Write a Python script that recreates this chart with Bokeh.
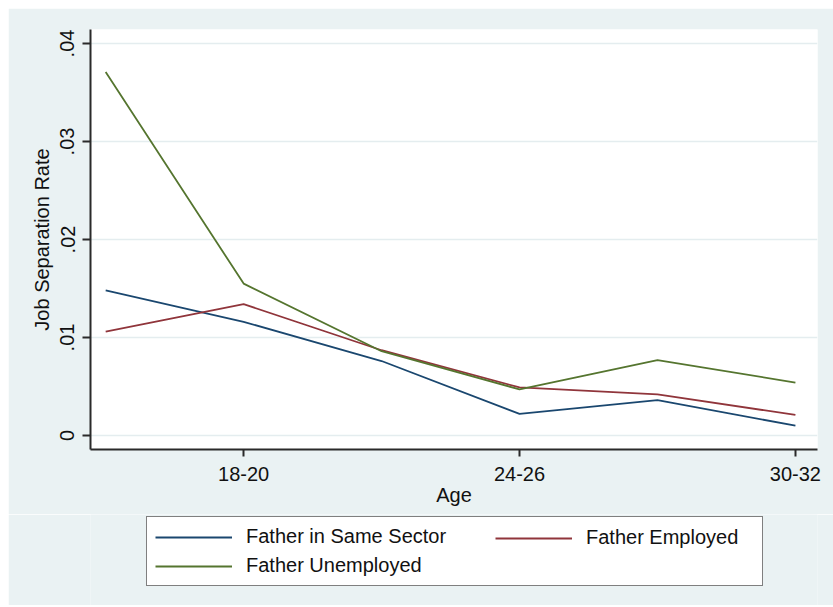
from bokeh.plotting import figure
from bokeh.models import (FixedTicker, CustomJSTickFormatter, Legend, LegendItem,
                          Spacer, Range1d)
from bokeh.layouts import column, row
from bokeh.embed import file_html
from bokeh.resources import INLINE

# ---- data ----
age_groups = ["15-17", "18-20", "21-23", "24-26", "27-29", "30-32"]
x_pos = [1, 2, 3, 4, 5, 6]
same_sector = [0.0148, 0.0116, 0.0076, 0.0022, 0.0036, 0.0010]
employed = [0.0106, 0.0134, 0.0087, 0.0049, 0.0042, 0.0021]
unemployed = [0.0371, 0.0155, 0.0086, 0.0047, 0.0077, 0.0054]
y_ticks = [0, 0.01, 0.02, 0.03, 0.04]
x_label_idx = [2, 4, 6]
series_names = ["Father in Same Sector", "Father Employed", "Father Unemployed"]

BG = "#EAF2F3"
GRID = "#E4EDEF"
AXIS = "#2a2a2a"
FONT = "Liberation Sans"
FS = "20px"
LW = 1.8
colors = ["#1a476f", "#90353b", "#55752f"]

# ---------------- main chart ----------------
p = figure(width=825, height=506,
           x_range=Range1d(0.89, 6.16), y_range=Range1d(-0.00143, 0.04143),
           output_backend="svg", toolbar_location=None,
           background_fill_color="white", border_fill_color=BG,
           outline_line_color=None,
           min_border_left=82, min_border_right=16,
           min_border_top=21, min_border_bottom=65)

for ys, c in zip([same_sector, employed, unemployed], colors):
    p.line(x_pos, ys, line_color=c, line_width=LW)

p.xgrid.grid_line_color = None
p.ygrid.ticker = FixedTicker(ticks=y_ticks)
p.ygrid.grid_line_color = GRID
p.ygrid.grid_line_width = 1.5

for ax in (p.xaxis[0], p.yaxis[0]):
    ax.axis_line_color = AXIS
    ax.axis_line_width = 2
    ax.major_tick_line_color = AXIS
    ax.major_tick_line_width = 2
    ax.major_tick_in = 0
    ax.minor_tick_line_color = None
    ax.major_label_text_font = FONT
    ax.major_label_text_font_size = FS
    ax.major_label_text_color = "#111111"
    ax.axis_label_text_font = FONT
    ax.axis_label_text_font_size = FS
    ax.axis_label_text_font_style = "normal"
    ax.axis_label_text_color = "#111111"

p.xaxis.ticker = FixedTicker(ticks=x_label_idx)
p.xaxis.major_label_overrides = {i: age_groups[i - 1] for i in x_label_idx}
p.xaxis.major_tick_out = 7
p.xaxis.major_label_standoff = 10
p.xaxis.axis_label = "Age"
p.xaxis.axis_label_standoff = 0

p.yaxis.ticker = FixedTicker(ticks=y_ticks)
p.yaxis.formatter = CustomJSTickFormatter(
    code="return tick == 0 ? '0' : tick.toFixed(2).replace(/^0/, '');")
p.yaxis.major_tick_out = 8
p.yaxis.major_label_standoff = 8
p.yaxis.major_label_orientation = "vertical"
p.yaxis.axis_label = "Job Separation Rate"
p.yaxis.axis_label_standoff = 5

# ---------------- legend strip ----------------
lf = figure(width=825, height=91, output_backend="svg", toolbar_location=None,
            x_axis_type=None, y_axis_type=None,
            x_range=Range1d(0, 1), y_range=Range1d(0, 1),
            background_fill_color=BG, border_fill_color=BG,
            outline_line_color=None, min_border=0)
lf.xgrid.grid_line_color = None
lf.ygrid.grid_line_color = None
nan = float("nan")
keys = [lf.line([nan], [nan], line_color=c, line_width=LW) for c in colors]

common = dict(label_text_font=FONT, label_text_font_size=FS,
              label_text_color="#111111", glyph_width=77, glyph_height=20,
              label_height=20, label_standoff=14, spacing=6, padding=8,
              margin=0)

legend_a = Legend(
    items=[LegendItem(label=series_names[0], renderers=[keys[0]]),
           LegendItem(label=series_names[2], renderers=[keys[2]])],
    location=(56, 19), orientation="vertical",
    border_line_color="black", border_line_width=1.5,
    background_fill_color="white", background_fill_alpha=1,
    label_width=508, **common)
legend_b = Legend(
    items=[LegendItem(label=series_names[1], renderers=[keys[1]])],
    location=(405, 56), orientation="vertical",
    border_line_color=None, background_fill_alpha=0,
    label_width=20, **common)
lf.add_layout(legend_a, "center")
lf.add_layout(legend_b, "center")

layout = column(Spacer(height=8), row(Spacer(width=8), column(p, lf)))
open("out.html", "w").write(file_html(layout, INLINE))
